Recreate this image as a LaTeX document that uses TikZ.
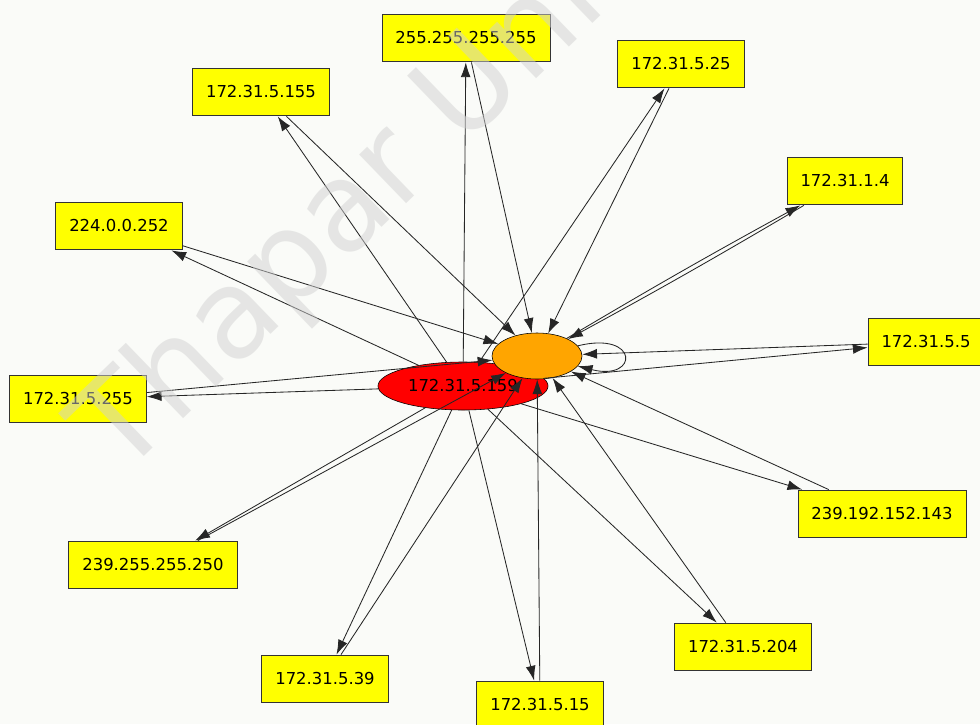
\documentclass[tikz,border=0pt]{standalone}
\usepackage{fontspec}
\setmainfont{DejaVu Sans}
\usetikzlibrary{arrows.meta,shapes.geometric}
\definecolor{bgcol}{RGB}{250,251,248}
\definecolor{boxyellow}{RGB}{255,255,0}
\definecolor{hostred}{RGB}{255,0,0}
\definecolor{peerorange}{RGB}{255,165,0}
\begin{document}
\begin{tikzpicture}[x=0.025cm, y=-0.025cm,
  ipbox/.style={draw=black!80, fill=boxyellow, line width=0.7pt, inner xsep=9.5pt, minimum height=34pt, font=\fontsize{11.7}{14}\selectfont},
  edge/.style={-{Latex[length=10.5pt,width=7pt]}, line width=0.6pt, black!85}]
\fill[bgcol] (0,0) rectangle (980,724);
\useasboundingbox (0,0) rectangle (980,724);
% the two hosts in the middle
\node[ellipse, draw, fill=hostred, inner sep=0pt, minimum width=4.25cm, minimum height=1.2cm, font=\fontsize{11.7}{14}\selectfont] (host) at (463,386) {172.31.5.159};
\node[ellipse, draw, fill=peerorange, inner sep=0pt, minimum width=2.25cm, minimum height=1.15cm] (peer) at (537,356) {};
% addresses round them
\node[ipbox] (ipbc) at (466,38) {255.255.255.255};
\node[ipbox] (ip25) at (681,64) {172.31.5.25};
\node[ipbox] (ip155) at (261,92) {172.31.5.155};
\node[ipbox] (ip14) at (845,181) {172.31.1.4};
\node[ipbox] (ip224) at (119,226) {224.0.0.252};
\node[ipbox] (ip55) at (926,342) {172.31.5.5};
\node[ipbox] (ip5255) at (78,399) {172.31.5.255};
\node[ipbox] (ip143) at (882,514) {239.192.152.143};
\node[ipbox] (ip250) at (153,565) {239.255.255.250};
\node[ipbox] (ip204) at (743,647) {172.31.5.204};
\node[ipbox] (ip39) at (325,679) {172.31.5.39};
\node[ipbox] (ip15) at (540,705) {172.31.5.15};
% outgoing and incoming traffic
\foreach \ip in {ipbc,ip25,ip155,ip224,ip55,ip5255,ip143,ip250,ip204,ip39,ip15}{
  \draw[edge] (host) -- (\ip);
  \draw[edge] (\ip) -- (peer);
}
\draw[edge] (peer) to[bend left=1] (ip14);
\draw[edge] (ip14) to[bend left=1] (peer);
\draw[edge] (peer) to[out=14, in=-14, looseness=8, min distance=10mm] (peer);
% watermark
\node[rotate=44, anchor=base west, text=black!18, text opacity=0.5, font=\fontsize{88}{94}\selectfont] (mark) at (118,482) {Thapar Univ};
\end{tikzpicture}
\end{document}
